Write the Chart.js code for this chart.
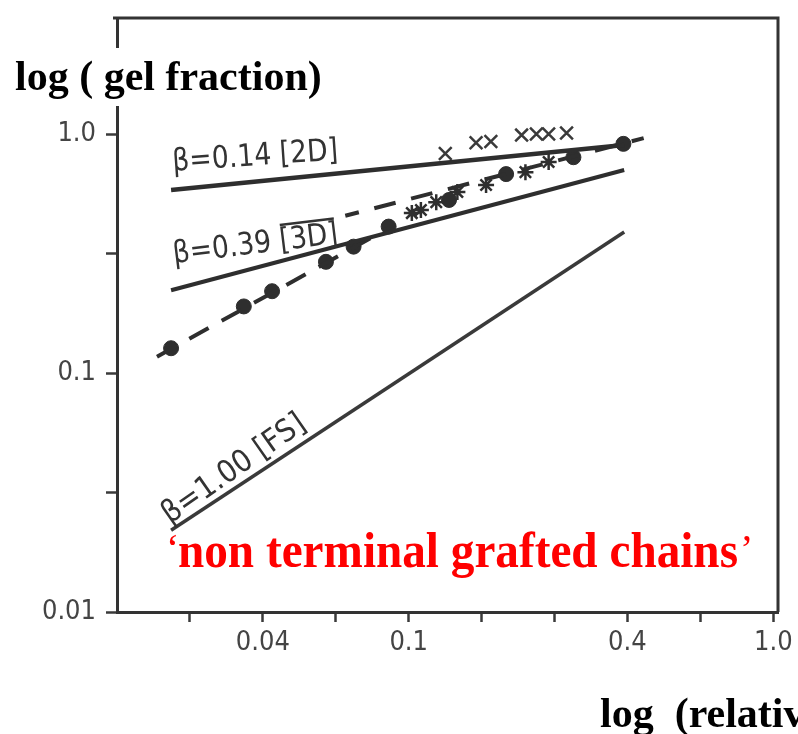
<!DOCTYPE html>
<html>
<head>
<meta charset="UTF-8">
<title>gel fraction</title>
<script src="https://cdn.jsdelivr.net/npm/chart.js@4.4.0/dist/chart.umd.min.js"></script>
<style>
  * { margin: 0; padding: 0; }
  body { background: #fff; }
  #wrap { width: 798px; height: 734px; }
</style>
</head>
<body>
<div id="wrap"><canvas id="c" width="798" height="734"></canvas></div>
<script>
// model lines (two end points each)
var line2D = { x: [0.0223, 0.39], y: [0.583, 0.90] };
var line3D = { x: [0.0223, 0.39], y: [0.222, 0.707] };
var lineFS = { x: [0.0223, 0.39], y: [0.022, 0.389] };
// dashed guides: low-time branch through the dots, upper branch
var fitLow = { x: [0.0204, 0.0881], y: [0.117, 0.404] };
var fitHigh = { x: [0.067, 0.441], y: [0.455, 0.962] };

// measured points
var dotX = [0.0223, 0.0353, 0.0422, 0.0593, 0.0706, 0.0881, 0.129, 0.185, 0.283, 0.388];
var dotY = [0.127, 0.19, 0.22, 0.292, 0.338, 0.41, 0.53, 0.68, 0.80, 0.91];
var starX = [0.102, 0.108, 0.119, 0.136, 0.163, 0.209, 0.242];
var starY = [0.467, 0.481, 0.519, 0.572, 0.612, 0.693, 0.764];
var crossX = [0.126, 0.153, 0.168, 0.204, 0.224, 0.242, 0.271];
var crossY = [0.83, 0.92, 0.93, 0.99, 1.0, 1.0, 1.01];

var xTickValues = [0.0251, 0.0398, 0.0631, 0.1, 0.158, 0.251, 0.398, 0.631, 1.0];
var xTickLabels = ['', '0.04', '', '0.1', '', '', '0.4', '', '1.0'];
var yTickValues = [0.01, 0.0316, 0.1, 0.316, 1.0];
var yTickLabels = ['0.01', '', '0.1', '', '1.0'];

var lineLabels = ['\u03b2=0.14 [2D]', '\u03b2=0.39 [3D]', '\u03b2=1.00 [FS]'];

var ink = '#2e2e2e';
var tickFont = { family: "'DejaVu Sans Condensed', 'Liberation Sans Narrow', 'DejaVu Sans', sans-serif", size: 27 };

function pts(xs, ys) {
  return xs.map(function (x, i) { return { x: x, y: ys[i] }; });
}

// rotated text squeezed to a given width; returns the horizontal factor
function drawSqueezed(ctx, text, x, y, angle, width, font) {
  ctx.save();
  ctx.font = font;
  var w = ctx.measureText(text).width;
  ctx.translate(x, y);
  ctx.rotate(angle * Math.PI / 180);
  ctx.scale(width / w, 1);
  ctx.fillText(text, 0, 0);
  ctx.restore();
  return width / w;
}

var decor = {
  id: 'decor',
  afterDraw: function (chart) {
    var ctx = chart.ctx, a = chart.chartArea;
    var xs = chart.scales.x, ys = chart.scales.y;

    // frame top and right
    ctx.save();
    ctx.strokeStyle = '#333';
    ctx.lineWidth = 3;
    ctx.beginPath();
    ctx.moveTo(a.left - 4, a.top);
    ctx.lineTo(a.right, a.top);
    ctx.lineTo(a.right, a.bottom);
    ctx.stroke();
    ctx.restore();

    // line labels
    ctx.save();
    ctx.fillStyle = '#333';
    ctx.strokeStyle = '#333';
    ctx.textBaseline = 'alphabetic';
    var lf = "31px 'DejaVu Sans', sans-serif";
    var p = [line2D, line3D, lineFS].map(function (l) {
      return { x: xs.getPixelForValue(l.x[0]), y: ys.getPixelForValue(l.y[0]) };
    });
    drawSqueezed(ctx, lineLabels[0], p[0].x + 2, p[0].y - 19, -4, 166, lf);
    var k = drawSqueezed(ctx, lineLabels[1], p[1].x + 3, p[1].y - 27, -7, 166, lf);
    // box stroke over "3D"
    ctx.save();
    ctx.font = lf;
    var pre = ctx.measureText('\u03b2=0.39 ').width * k;
    var box = ctx.measureText('[3D]').width * k;
    ctx.translate(p[1].x + 3, p[1].y - 27);
    ctx.rotate(-7 * Math.PI / 180);
    ctx.lineWidth = 2.5;
    ctx.beginPath();
    ctx.moveTo(pre + 2, -25);
    ctx.lineTo(pre + box - 2, -25);
    ctx.stroke();
    ctx.restore();
    drawSqueezed(ctx, lineLabels[2], p[2].x - 1, p[2].y - 6, -35, 168, lf);
    ctx.restore();

    // axis titles
    ctx.save();
    ctx.fillStyle = '#fff';
    ctx.fillRect(8, 48, 325, 58);
    ctx.fillStyle = '#000';
    ctx.font = "bold 42px 'Liberation Serif', 'Times New Roman', serif";
    ctx.fillText('log ( gel fraction)', 15, 90);
    ctx.fillText('log  (relative time)', 600, 727);
    ctx.restore();

    // red caption
    ctx.save();
    ctx.fillStyle = '#ff0000';
    ctx.font = "40px 'Liberation Serif', serif";
    ctx.fillText('\u2018', 166, 562);
    ctx.fillText('\u2019', 740, 562);
    ctx.translate(178, 567);
    ctx.scale(1, 1.06);
    ctx.font = "bold 48px 'Liberation Serif', serif";
    var cw = ctx.measureText('non terminal grafted chains').width;
    ctx.scale(560 / cw, 1);
    ctx.fillText('non terminal grafted chains', 0, 0);
    ctx.restore();
  }
};

new Chart(document.getElementById('c'), {
  type: 'scatter',
  data: {
    datasets: [
      { data: pts(line2D.x, line2D.y), showLine: true, borderColor: ink, borderWidth: 4.5, pointRadius: 0 },
      { data: pts(line3D.x, line3D.y), showLine: true, borderColor: ink, borderWidth: 4, pointRadius: 0 },
      { data: pts(lineFS.x, lineFS.y), showLine: true, borderColor: '#3a3a3a', borderWidth: 3.5, pointRadius: 0 },
      { data: pts(fitLow.x, fitLow.y), showLine: true, borderColor: ink, borderWidth: 4, borderDash: [22, 15], pointRadius: 0 },
      { data: pts(fitHigh.x, fitHigh.y), showLine: true, borderColor: ink, borderWidth: 4, borderDash: [22, 16], borderDashOffset: 8, pointRadius: 0 },
      { data: pts(dotX, dotY), pointStyle: 'circle', pointRadius: 7.5, backgroundColor: ink, borderColor: ink, borderWidth: 1 },
      { data: pts(starX, starY), pointStyle: 'star', pointRadius: 8, borderColor: ink, borderWidth: 2.5 },
      { data: pts(crossX, crossY), pointStyle: 'crossRot', pointRadius: 9, borderColor: '#3a3a3a', borderWidth: 2.5 }
    ]
  },
  options: {
    responsive: false,
    animation: false,
    devicePixelRatio: 1,
    layout: { padding: { top: 18, right: 20, left: 0, bottom: 0 } },
    plugins: { legend: { display: false }, tooltip: { enabled: false } },
    scales: {
      x: {
        type: 'logarithmic',
        position: 'bottom',
        min: Math.pow(10, -1.8),
        max: 1.03,
        afterBuildTicks: function (s) { s.ticks = xTickValues.map(function (v) { return { value: v }; }); },
        afterFit: function (s) { s.height = 122; s.paddingLeft = 0; s.paddingRight = 0; },
        ticks: {
          autoSkip: false, maxRotation: 0, padding: 5, color: '#444', font: tickFont,
          callback: function (v, i) { return xTickLabels[i]; }
        },
        grid: { drawOnChartArea: false, tickLength: 10, tickWidth: 2.5, tickColor: '#3a3a3a' },
        border: { color: '#333', width: 3 }
      },
      y: {
        type: 'logarithmic',
        min: 0.01,
        max: 3.06,
        afterBuildTicks: function (s) { s.ticks = yTickValues.map(function (v) { return { value: v }; }); },
        afterFit: function (s) { s.width = 117; s.paddingTop = 0; s.paddingBottom = 0; },
        ticks: {
          autoSkip: false, padding: 10, color: '#444', font: tickFont,
          callback: function (v, i) { return yTickLabels[i]; }
        },
        grid: { drawOnChartArea: false, tickLength: 11, tickWidth: 2.5, tickColor: '#3a3a3a' },
        border: { color: '#333', width: 3 }
      }
    }
  },
  plugins: [decor]
});
</script>
</body>
</html>
